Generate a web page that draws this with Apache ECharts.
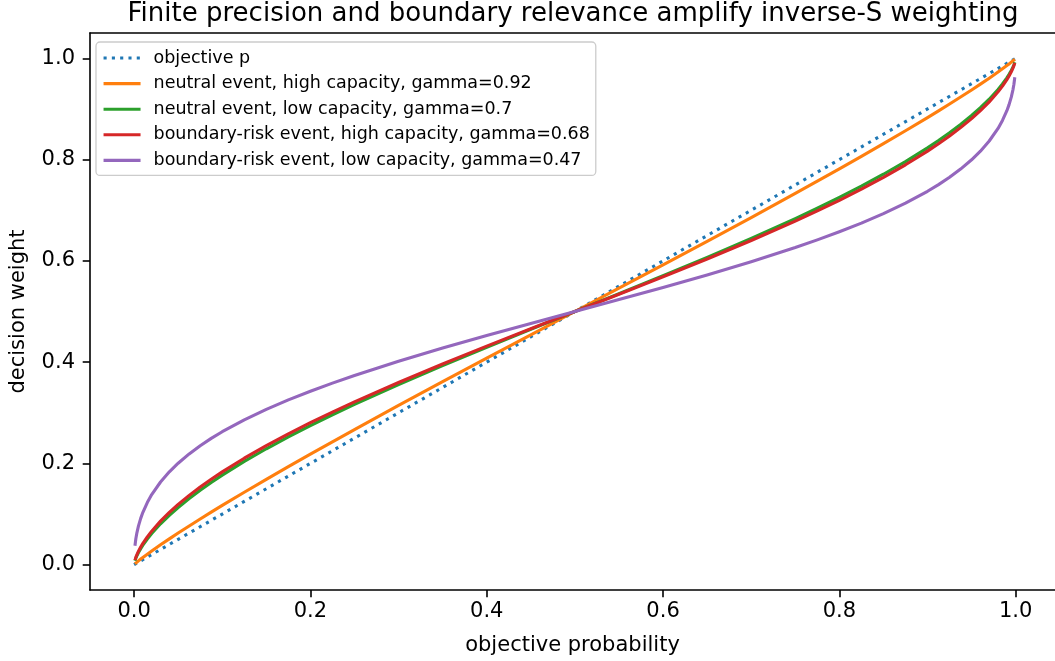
<!DOCTYPE html>
<html><head><meta charset="utf-8">
<script src="https://cdn.jsdelivr.net/npm/echarts@6/dist/echarts.min.js"></script>
<style>html,body{margin:0;padding:0;background:#fff}#c{width:1055px;height:661px}</style>
</head><body><div id="c"></div>
<script>
const TITLE = 'Finite precision and boundary relevance amplify inverse-S weighting';
const X_NAME = 'objective probability';
const Y_NAME = 'decision weight';
const TICKS = [0, 0.2, 0.4, 0.6, 0.8, 1.0];
const P = [0.001,0.002,0.003,0.005,0.0075,0.01,0.015,0.02,0.03,0.04,0.05,0.0625,0.075,0.0875,0.1,0.125,0.15,0.175,0.2,0.225,0.25,0.3,0.35,0.4,0.45,0.5,
           0.55,0.6,0.65,0.7,0.75,0.775,0.8,0.825,0.85,0.875,0.9,0.9125,0.925,0.9375,0.95,0.96,0.97,0.98,0.985,0.99,0.9925,0.995,0.997,0.998,0.999];
const OBJ_P = [0, 1];
const OBJ_W = [0, 1];
const NEUTRAL_HIGH = [0.0017,0.0033,0.0048,0.0076,0.0111,0.0144,0.0208,0.0271,0.0392,0.0510,0.0625,0.0765,0.0902,0.1037,0.1170,0.1430,0.1686,0.1937,0.2183,0.2427,0.2668,0.3145,0.3614,0.4078,0.4540,0.5,
  0.5460,0.5922,0.6386,0.6855,0.7332,0.7573,0.7817,0.8063,0.8314,0.8570,0.8830,0.8963,0.9098,0.9235,0.9375,0.9490,0.9608,0.9729,0.9792,0.9856,0.9889,0.9924,0.9952,0.9967,0.9983];
const NEUTRAL_LOW = [0.0079,0.0128,0.0169,0.0240,0.0317,0.0386,0.0507,0.0615,0.0807,0.0975,0.1129,0.1306,0.1470,0.1623,0.1768,0.2039,0.2289,0.2525,0.2748,0.2961,0.3167,0.3559,0.3933,0.4295,0.4649,0.5,
  0.5351,0.5705,0.6067,0.6441,0.6833,0.7039,0.7252,0.7475,0.7711,0.7961,0.8232,0.8377,0.8530,0.8694,0.8871,0.9025,0.9193,0.9385,0.9493,0.9614,0.9683,0.9760,0.9831,0.9872,0.9921];
const BOUNDARY_HIGH = [0.0090,0.0144,0.0189,0.0266,0.0348,0.0421,0.0549,0.0662,0.0860,0.1033,0.1190,0.1369,0.1534,0.1688,0.1833,0.2103,0.2351,0.2584,0.2804,0.3013,0.3215,0.3598,0.3963,0.4315,0.4659,0.5,
  0.5341,0.5685,0.6037,0.6402,0.6785,0.6987,0.7196,0.7416,0.7649,0.7897,0.8167,0.8312,0.8466,0.8631,0.8810,0.8967,0.9140,0.9338,0.9451,0.9579,0.9652,0.9734,0.9811,0.9856,0.9910];
const BOUNDARY_LOW = [0.0375,0.0512,0.0613,0.0767,0.0914,0.1034,0.1227,0.1384,0.1633,0.1834,0.2004,0.2188,0.2349,0.2494,0.2626,0.2861,0.3068,0.3255,0.3426,0.3586,0.3737,0.4017,0.4278,0.4525,0.4764,0.5,
  0.5236,0.5475,0.5722,0.5983,0.6263,0.6414,0.6574,0.6745,0.6932,0.7139,0.7374,0.7506,0.7651,0.7812,0.7996,0.8166,0.8367,0.8616,0.8773,0.8966,0.9086,0.9233,0.9387,0.9488,0.9625];
const NAMES = ['objective p',
  'neutral event, high capacity, gamma=0.92',
  'neutral event, low capacity, gamma=0.7',
  'boundary-risk event, high capacity, gamma=0.68',
  'boundary-risk event, low capacity, gamma=0.47'];
const COLORS = ['#1f77b4','#ff7f0e','#2ca02c','#d62728','#9467bd'];

const FONT = 'DejaVu Sans';
const LW = 3.1;
const zip = (xs, ys) => xs.map((x, i) => [x, ys[i]]);
const curves = [NEUTRAL_HIGH, NEUTRAL_LOW, BOUNDARY_HIGH, BOUNDARY_LOW];

const series = [{
  name: NAMES[0], type: 'line', data: zip(OBJ_P, OBJ_W), symbol: 'none',
  lineStyle: {color: COLORS[0], width: LW, type: [3.1, 5.2], cap: 'butt'}, itemStyle: {color: COLORS[0]}, z: 2
}];
curves.forEach((c, i) => series.push({
  name: NAMES[i+1], type: 'line', data: zip(P, c), symbol: 'none',
  smooth: false,
  lineStyle: {color: COLORS[i+1], width: LW, join: 'round'}, itemStyle: {color: COLORS[i+1]}, z: 3 + i
}));

const XMIN = -0.05, XMAX = 1.0446, YMIN = -0.05, YMAX = 1.05;
const lineAxis = {show: true, onZero: false, lineStyle: {color: '#000', width: 1.6}};
const labelBase = {customValues: TICKS, formatter: v => v.toFixed(1), color: '#000', fontSize: 21, fontFamily: FONT};
const tickBase = {show: true, customValues: TICKS, length: 7.3, lineStyle: {color: '#000', width: 1.6}};
const nameStyle = {color: '#000', fontSize: 21, fontFamily: FONT};

const chart = echarts.init(document.getElementById('c'), null, {renderer: 'canvas'});
chart.setOption({
  animation: false,
  backgroundColor: '#fff',
  title: {text: TITLE, left: 568, top: -4, textAlign: 'center',
    textStyle: {color: '#000', fontSize: 26, fontWeight: 'normal', fontFamily: FONT}},
  grid: {left: 87, top: 33, right: 0, bottom: 71, show: false, containLabel: false},
  xAxis: [{
    type: 'value', min: XMIN, max: XMAX, position: 'bottom', splitLine: {show: false},
    axisLine: lineAxis, axisTick: tickBase,
    axisLabel: Object.assign({}, labelBase, {margin: 11}),
    name: X_NAME, nameLocation: 'middle', nameGap: 45, nameTextStyle: nameStyle
  }, {
    type: 'value', min: XMIN, max: XMAX, position: 'top', splitLine: {show: false},
    axisLine: lineAxis, axisTick: {show: false}, axisLabel: {show: false}
  }],
  yAxis: {
    type: 'value', min: YMIN, max: YMAX, splitLine: {show: false},
    axisLine: lineAxis, axisTick: tickBase,
    axisLabel: Object.assign({}, labelBase, {margin: 15}),
    name: Y_NAME, nameLocation: 'middle', nameGap: 61, nameRotate: 90, nameTextStyle: nameStyle
  },
  legend: {
    orient: 'vertical', left: 96, top: 42, data: NAMES,
    itemWidth: 37, itemHeight: 14, itemGap: 7.6,
    padding: [7, 6, 6, 6],
    itemStyle: {opacity: 0},
    lineStyle: {width: LW},
    backgroundColor: 'rgba(255,255,255,0.8)', borderColor: '#cccccc', borderWidth: 1.3, borderRadius: 4,
    textStyle: {color: '#000', fontSize: 17.5, fontFamily: FONT, lineHeight: 18, padding: [0, 0, 0, 8]}
  },
  series: series
});
</script></body></html>
